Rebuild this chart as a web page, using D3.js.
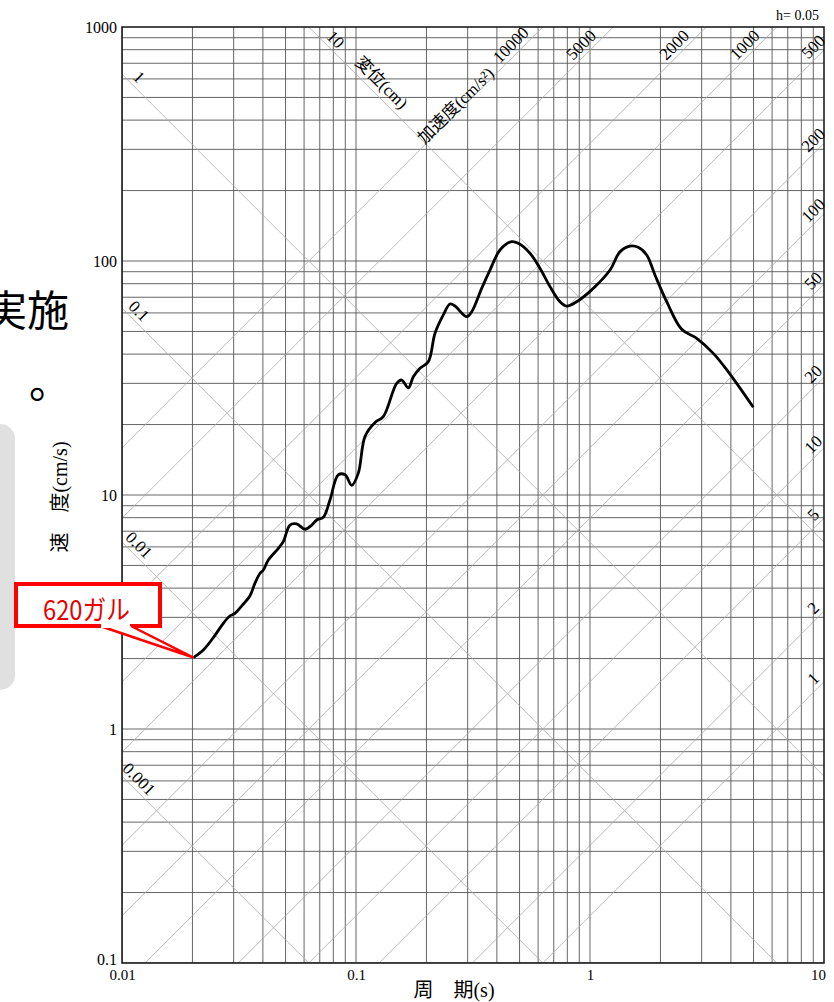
<!DOCTYPE html>
<html>
<head>
<meta charset="utf-8">
<script src="https://cdn.jsdelivr.net/npm/d3@7"></script>
<style>
  body { margin: 0; background: #fff; }
  svg { display: block; }
</style>
</head>
<body>
<div id="chart"></div>
<script>
// response spectrum (tripartite), h = 0.05
const periods = [0.0202, 0.0223, 0.0250, 0.0271, 0.0289, 0.0304, 0.0325, 0.0352, 0.0370, 0.0389,
  0.0402, 0.0422, 0.0466, 0.0489, 0.0522, 0.0558, 0.0606, 0.0647, 0.0679, 0.0725,
  0.0774, 0.0840, 0.0898, 0.0959, 0.1023, 0.1093, 0.1206, 0.1308, 0.1492, 0.1568,
  0.1673, 0.1758, 0.1877, 0.2037, 0.2176, 0.2361, 0.2522, 0.2649, 0.2972, 0.3122,
  0.3444, 0.3737, 0.4124, 0.4627, 0.4938, 0.5541, 0.6111, 0.6747, 0.7444, 0.7953,
  0.8773, 1.033, 1.218, 1.343, 1.482, 1.608, 1.747, 1.895, 2.127, 2.465,
  2.858, 3.365, 3.90, 4.99];
const velocities = [2.02, 2.18, 2.52, 2.83, 3.04, 3.12, 3.36, 3.70, 4.20, 4.63,
  4.78, 5.28, 5.92, 6.32, 7.44, 7.52, 7.14, 7.44, 7.82, 8.03,
  9.52, 12.2, 12.2, 11.0, 12.4, 17.8, 20.4, 21.6, 30.0, 31.0,
  28.7, 32.0, 34.8, 37.1, 49.1, 58.8, 65.5, 64.2, 57.8, 60.7,
  76.4, 91.5, 111.4, 121, 119, 107.9, 93.1, 77.7, 67.0, 64.2,
  67.0, 76.4, 91.5, 109.6, 115.9, 114.4, 106.1, 87.1, 67.0, 51.1,
  46.7, 40.3, 33.6, 23.7];

const xTicks = [0.01, 0.1, 1, 10];
const yTicks = [0.1, 1, 10, 100, 1000];
const accelLines = [1, 2, 5, 10, 20, 50, 100, 200, 500, 1000, 2000, 5000, 10000]; // cm/s2
const dispLines = [0.001, 0.01, 0.1, 1, 10]; // cm

const W = 834, H = 1002;
const margin = { left: 122, right: 824, top: 27, bottom: 963 };
const serif = "'Liberation Serif','Noto Sans CJK JP',serif";
const sans = "'Noto Sans CJK JP','Noto Sans',sans-serif";
const TWO_PI = 2 * Math.PI;

const svg = d3.select("#chart").append("svg")
  .attr("width", W).attr("height", H);

// left side page fragments
svg.append("rect")
  .attr("x", -30).attr("y", 424).attr("width", 45).attr("height", 266)
  .attr("rx", 15).attr("fill", "#e0e0e0");
svg.append("text")
  .attr("x", -15).attr("y", 326)
  .style("font-family", sans).style("font-size", "42px")
  .text("実施");
svg.append("text")
  .attr("x", 29).attr("y", 398)
  .style("font-family", sans).style("font-size", "42px")
  .text("。");

const x = d3.scaleLog().domain([0.01, 10]).range([margin.left, margin.right]);
const y = d3.scaleLog().domain([0.1, 1000]).range([margin.bottom, margin.top]);

svg.append("clipPath").attr("id", "plot-clip")
  .append("rect")
  .attr("x", margin.left).attr("y", margin.top)
  .attr("width", margin.right - margin.left).attr("height", margin.bottom - margin.top);

const grid = svg.append("g").attr("clip-path", "url(#plot-clip)");

// log grid
const xGrid = [];
xTicks.slice(0, -1).forEach(d => { for (let k = 1; k < 10; k++) xGrid.push(d * k); });
const yGrid = [];
yTicks.slice(0, -1).forEach(d => { for (let k = 1; k < 10; k++) yGrid.push(d * k); });

grid.selectAll(".vgrid").data(xGrid).enter().append("line")
  .attr("x1", d => x(d)).attr("x2", d => x(d))
  .attr("y1", margin.top).attr("y2", margin.bottom)
  .attr("stroke", "#555").attr("stroke-width", 0.9);

grid.selectAll(".hgrid").data(yGrid).enter().append("line")
  .attr("y1", d => y(d)).attr("y2", d => y(d))
  .attr("x1", margin.left).attr("x2", margin.right)
  .attr("stroke", "#555").attr("stroke-width", 0.9);

// acceleration lines: Sv = A T / 2pi
grid.selectAll(".acc").data(accelLines).enter().append("line")
  .attr("x1", x(0.01)).attr("y1", a => y(a * 0.01 / TWO_PI))
  .attr("x2", x(10)).attr("y2", a => y(a * 10 / TWO_PI))
  .attr("stroke", "#a8a8a8").attr("stroke-width", 0.8);

// displacement lines: Sv = 2pi D / T
grid.selectAll(".disp").data(dispLines).enter().append("line")
  .attr("x1", x(0.01)).attr("y1", dd => y(TWO_PI * dd / 0.01))
  .attr("x2", x(10)).attr("y2", dd => y(TWO_PI * dd / 10))
  .attr("stroke", "#a8a8a8").attr("stroke-width", 0.8);

// frame
svg.append("rect")
  .attr("x", margin.left).attr("y", margin.top)
  .attr("width", margin.right - margin.left).attr("height", margin.bottom - margin.top)
  .attr("fill", "none").attr("stroke", "#111").attr("stroke-width", 1.5);

// diagonal labels
function diagLabel(text, cx, cy, angle, size) {
  svg.append("text")
    .attr("transform", `translate(${cx},${cy}) rotate(${angle})`)
    .attr("text-anchor", "middle")
    .attr("dominant-baseline", "central")
    .style("font-family", serif).style("font-size", (size || 17) + "px")
    .text(text);
}

accelLines.forEach(a => {
  const T = Math.min(9, TWO_PI * 730 / a);
  diagLabel(a, x(T), y(a * T / TWO_PI) - 14, -45);
});
dispLines.forEach(dd => {
  const T = Math.max(0.0118, TWO_PI * dd / 770);
  diagLabel(dd, x(T), y(TWO_PI * dd / T) - 14, 45);
});
{
  const Ta = 0.2676;
  diagLabel("加速度(cm/s²)", x(Ta), y(10000 * Ta / TWO_PI) - 8, -45, 17);
  const Td = 0.1285;
  diagLabel("変位(cm)", x(Td), y(TWO_PI * 10 / Td) - 17, 45, 17);
}

// axes
const yAxis = svg.append("g")
  .attr("transform", `translate(${margin.left},0)`)
  .call(d3.axisLeft(y).tickValues(yTicks).tickSize(0).tickPadding(5).tickFormat(d => String(d)));
yAxis.select(".domain").remove();
yAxis.selectAll("text")
  .style("font-family", serif).style("font-size", "16px").attr("fill", "#000");
yAxis.selectAll(".tick").filter(d => d === 0.1).select("text").attr("dy", "0.1em");

const xAxis = svg.append("g")
  .attr("transform", `translate(0,${margin.bottom})`)
  .call(d3.axisBottom(x).tickValues(xTicks).tickSize(0).tickPadding(6).tickFormat(d => String(d)));
xAxis.select(".domain").remove();
xAxis.selectAll("text")
  .style("font-family", serif).style("font-size", "15px").attr("fill", "#000");
xAxis.selectAll(".tick").filter(d => d === 10).select("text").attr("dx", -6);

svg.append("text")
  .attr("transform", "translate(67,497) rotate(-90)")
  .attr("text-anchor", "middle")
  .style("font-family", serif).style("font-size", "20px")
  .text("速\u3000度(cm/s)");

svg.append("text")
  .attr("x", 454).attr("y", 997)
  .attr("text-anchor", "middle")
  .style("font-family", serif).style("font-size", "20px")
  .text("周\u3000期(s)");

svg.append("text")
  .attr("x", 819).attr("y", 20)
  .attr("text-anchor", "end")
  .style("font-family", serif).style("font-size", "14px")
  .text("h= 0.05");

// spectrum curve
const line = d3.line()
  .x((d, i) => x(periods[i]))
  .y(d => y(d))
  .curve(d3.curveCatmullRom.alpha(0.5));

svg.append("path")
  .datum(velocities)
  .attr("d", line)
  .attr("fill", "none")
  .attr("stroke", "#000")
  .attr("stroke-width", 2.8)
  .attr("stroke-linejoin", "round");

// callout
const tipX = x(periods[0]), tipY = y(velocities[0]);
const callout = svg.append("g");
callout.append("rect")
  .attr("x", 16).attr("y", 584).attr("width", 144).attr("height", 42)
  .attr("fill", "#fff").attr("stroke", "#f00").attr("stroke-width", 4);
callout.append("path")
  .attr("d", `M100,626 L${tipX},${tipY} L131,626`)
  .attr("fill", "#fff").attr("stroke", "#f00").attr("stroke-width", 2.5)
  .attr("stroke-linejoin", "miter");
callout.append("rect")
  .attr("x", 101).attr("y", 622).attr("width", 29).attr("height", 6)
  .attr("fill", "#fff");
callout.append("text")
  .attr("x", 43).attr("y", 620)
  .attr("textLength", 87).attr("lengthAdjust", "spacingAndGlyphs")
  .attr("fill", "#e60000")
  .style("font-family", sans).style("font-size", "27px")
  .text("620ガル");
</script>
</body>
</html>
